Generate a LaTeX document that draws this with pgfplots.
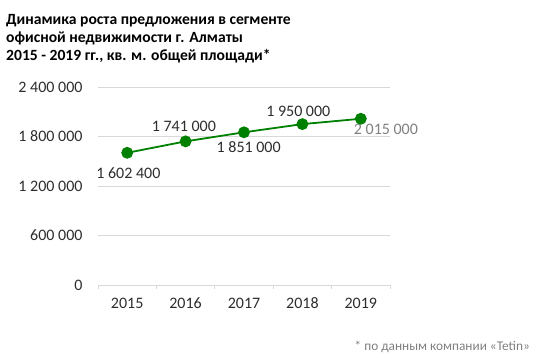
\documentclass[border=0pt]{standalone}
\usepackage{pgfplots}
\pgfplotsset{compat=1.18}
\usepackage{fontspec}
\setmainfont{Carlito}
\definecolor{txt}{RGB}{45,45,45}
\definecolor{gridc}{RGB}{217,217,217}
\definecolor{linec}{RGB}{0,128,0}
\definecolor{lab5}{RGB}{128,128,128}
\begin{document}
\begin{tikzpicture}[x=1pt,y=1pt]
\path[use as bounding box] (0,0) rectangle (547,358);
\begin{scope}[every node/.style={anchor=base west,inner sep=0pt,font=\bfseries\fontsize{15.6}{18}\selectfont}]
\node at (6,333) {Динамика роста предложения в сегменте};
\node at (6,315) {офисной недвижимости г. Алматы};
\node at (6,297) {2015 - 2019 гг., кв. м. общей площади*};
\end{scope}
\node[anchor=base east,inner sep=0pt,text=lab5,font=\fontsize{13.3}{15}\selectfont] at (530,7) {* по данным компании «Tetin»};
\begin{axis}[
  at={(98pt,73pt)}, anchor=south west,
  width=292pt, height=198pt, scale only axis,
  xmin=-0.5, xmax=4.5, ymin=0, ymax=2400000,
  clip=false,
  axis line style={draw=none},
  xtick={0,1,2,3,4},
  xticklabels={2015,2016,2017,2018,2019},
  minor xtick={-0.5,0.5,1.5,2.5,3.5,4.5},
  ytick={0,600000,1200000,1800000,2400000},
  yticklabels={0,600 000,1 200 000,1 800 000,2 400 000},
  major tick length=0pt,
  minor tick length=4pt,
  tick align=outside,
  tick pos=left,
  minor tick style={draw=gridc, line width=0.8pt},
  ymajorgrids,
  major grid style={draw=gridc, line width=0.9pt},
  tick label style={text=txt, font=\fontsize{16}{19}\selectfont},
  yticklabel style={xshift=-12pt},
  xticklabel style={anchor=base, yshift=-24pt},
  scaled y ticks=false,
]
\addplot[color=linec, line width=1.8pt, mark=*, mark size=5pt, mark options={fill=linec, draw=linec}]
  coordinates {(0,1602400) (1,1741000) (2,1851000) (3,1950000) (4,2015000)};
\begin{scope}[every node/.style={text=txt, font=\fontsize{16}{19}\selectfont, inner sep=0pt}]
\node at (axis cs:0.02,1602400) [yshift=-20pt] {1 602 400};
\node at (axis cs:0.97,1741000) [yshift=15pt] {1 741 000};
\node at (axis cs:2.08,1851000) [yshift=-15pt] {1 851 000};
\node at (axis cs:2.93,1950000) [yshift=13pt] {1 950 000};
\node[text=lab5] at (axis cs:4.43,2015000) [yshift=-11pt] {2 015 000};
\end{scope}
\end{axis}
\end{tikzpicture}
\end{document}
